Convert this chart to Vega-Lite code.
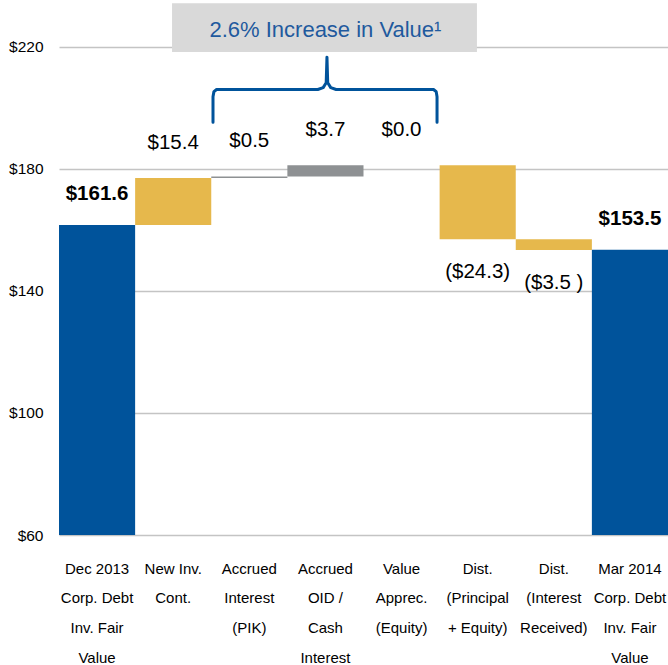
{
"$schema": "https://vega.github.io/schema/vega-lite/v6.json",
"width": 609, "height": 534,
"autosize": {"type": "none"},
"padding": {"left": 59, "top": 1, "right": 0, "bottom": 130},
"background": "white",
"config": {"view": {"stroke": null}, "font": "Liberation Sans"},
"datasets": {
 "steps": [
  {"cat": "Dec 2013|Corp. Debt|Inv. Fair|Value", "start": 60, "end": 161.6, "kind": "total", "label": "$161.6"},
  {"cat": "New Inv.|Cont.", "start": 161.6, "end": 177.0, "kind": "gold", "label": "$15.4"},
  {"cat": "Accrued|Interest|(PIK)", "start": 177.0, "end": 177.5, "kind": "grey", "label": "$0.5"},
  {"cat": "Accrued|OID /|Cash|Interest", "start": 177.5, "end": 181.2, "kind": "grey", "label": "$3.7"},
  {"cat": "Value|Apprec.|(Equity)", "start": 181.2, "end": 181.2, "kind": "grey", "label": "$0.0"},
  {"cat": "Dist.|(Principal|+ Equity)", "start": 181.2, "end": 156.9, "kind": "gold", "label": "($24.3)"},
  {"cat": "Dist.|(Interest|Received)", "start": 156.9, "end": 153.4, "kind": "gold", "label": "($3.5 )"},
  {"cat": "Mar 2014|Corp. Debt|Inv. Fair|Value", "start": 60, "end": 153.5, "kind": "total", "label": "$153.5"}
 ],
 "brace": [
  {"i": 0, "x": 2.023, "y": 195.3},
  {"i": 1, "x": 2.023, "y": 203.6},
  {"i": 2, "x": 2.035, "y": 205.3},
  {"i": 3, "x": 2.07, "y": 206.0},
  {"i": 4, "x": 3.40, "y": 206.0},
  {"i": 5, "x": 3.47, "y": 206.6},
  {"i": 6, "x": 3.51, "y": 208.2},
  {"i": 7, "x": 3.52, "y": 216.6},
  {"i": 8, "x": 3.53, "y": 208.2},
  {"i": 9, "x": 3.57, "y": 206.6},
  {"i": 10, "x": 3.64, "y": 206.0},
  {"i": 11, "x": 4.92, "y": 206.0},
  {"i": 12, "x": 4.955, "y": 205.3},
  {"i": 13, "x": 4.966, "y": 203.6},
  {"i": 14, "x": 4.966, "y": 195.3}
 ],
 "banner": [
  {"x1": 1.485, "x2": 5.49, "y1": 218.3, "y2": 234.3, "xm": 3.5, "ym": 225.5, "text": "2.6% Increase in Value¹"}
 ]
},
"resolve": {"scale": {"x": "independent"}, "axis": {"x": "independent"}},
"layer": [
 {
  "data": {"name": "steps"},
  "encoding": {
   "x": {"field": "cat", "type": "nominal", "sort": null,
    "scale": {"paddingInner": 0, "paddingOuter": 0},
    "axis": {"title": null, "domain": false, "ticks": false, "labelAngle": 0,
     "labelExpr": "split(datum.value, '|')", "labelFontSize": 15, "labelColor": "#000000",
     "labelLineHeight": 29.7, "labelPadding": 33, "labelBaseline": "middle"}}
  },
  "layer": [
   {
    "mark": {"type": "bar"},
    "encoding": {
     "y": {"field": "start", "type": "quantitative",
      "scale": {"domain": [60, 235], "nice": false, "zero": false},
      "axis": {"title": null, "values": [60, 100, 140, 180, 220], "labelExpr": "'$' + datum.value",
       "domain": false, "ticks": false, "labelPadding": 16, "labelFontSize": 15.5, "labelColor": "#000000",
       "grid": true, "gridColor": "#c4c4c4", "gridWidth": 1.5}},
     "y2": {"field": "end"},
     "color": {"field": "kind", "type": "nominal",
      "scale": {"domain": ["total", "gold", "grey"], "range": ["#00539b", "#e6b84c", "#8e9193"]},
      "legend": null}
    }
   },
   {
    "transform": [{"filter": "datum.kind == 'total'"}],
    "mark": {"type": "text", "fontSize": 20.5, "fontWeight": "bold", "dy": -31, "baseline": "middle", "color": "#000000"},
    "encoding": {"y": {"field": "end", "type": "quantitative"}, "text": {"field": "label"}}
   },
   {
    "transform": [{"filter": "datum.kind != 'total' && datum.end >= datum.start"}],
    "mark": {"type": "text", "fontSize": 20.5, "dy": -35, "baseline": "middle", "color": "#000000"},
    "encoding": {"y": {"field": "end", "type": "quantitative"}, "text": {"field": "label"}}
   },
   {
    "transform": [{"filter": "datum.kind != 'total' && datum.end < datum.start"}],
    "mark": {"type": "text", "fontSize": 20.5, "dy": 33, "baseline": "middle", "color": "#000000"},
    "encoding": {"y": {"field": "end", "type": "quantitative"}, "text": {"field": "label"}}
   }
  ]
 },
 {
  "layer": [
   {
    "data": {"name": "banner"},
    "mark": {"type": "rect", "color": "#d9d9d9"},
    "encoding": {
     "x": {"field": "x1", "type": "quantitative", "scale": {"domain": [0, 8], "nice": false, "zero": false}, "axis": null},
     "x2": {"field": "x2"},
     "y": {"field": "y1", "type": "quantitative"},
     "y2": {"field": "y2"}
    }
   },
   {
    "data": {"name": "banner"},
    "mark": {"type": "text", "fontSize": 22, "color": "#1f5a9e", "baseline": "middle", "align": "center"},
    "encoding": {
     "x": {"field": "xm", "type": "quantitative", "scale": {"domain": [0, 8], "nice": false, "zero": false}, "axis": null},
     "y": {"field": "ym", "type": "quantitative"},
     "text": {"field": "text"}
    }
   },
   {
    "data": {"name": "brace"},
    "mark": {"type": "line", "color": "#00539b", "strokeWidth": 3, "strokeJoin": "round", "strokeCap": "round"},
    "encoding": {
     "x": {"field": "x", "type": "quantitative", "scale": {"domain": [0, 8], "nice": false, "zero": false}, "axis": null},
     "y": {"field": "y", "type": "quantitative"},
     "order": {"field": "i"}
    }
   }
  ]
 }
]
}
